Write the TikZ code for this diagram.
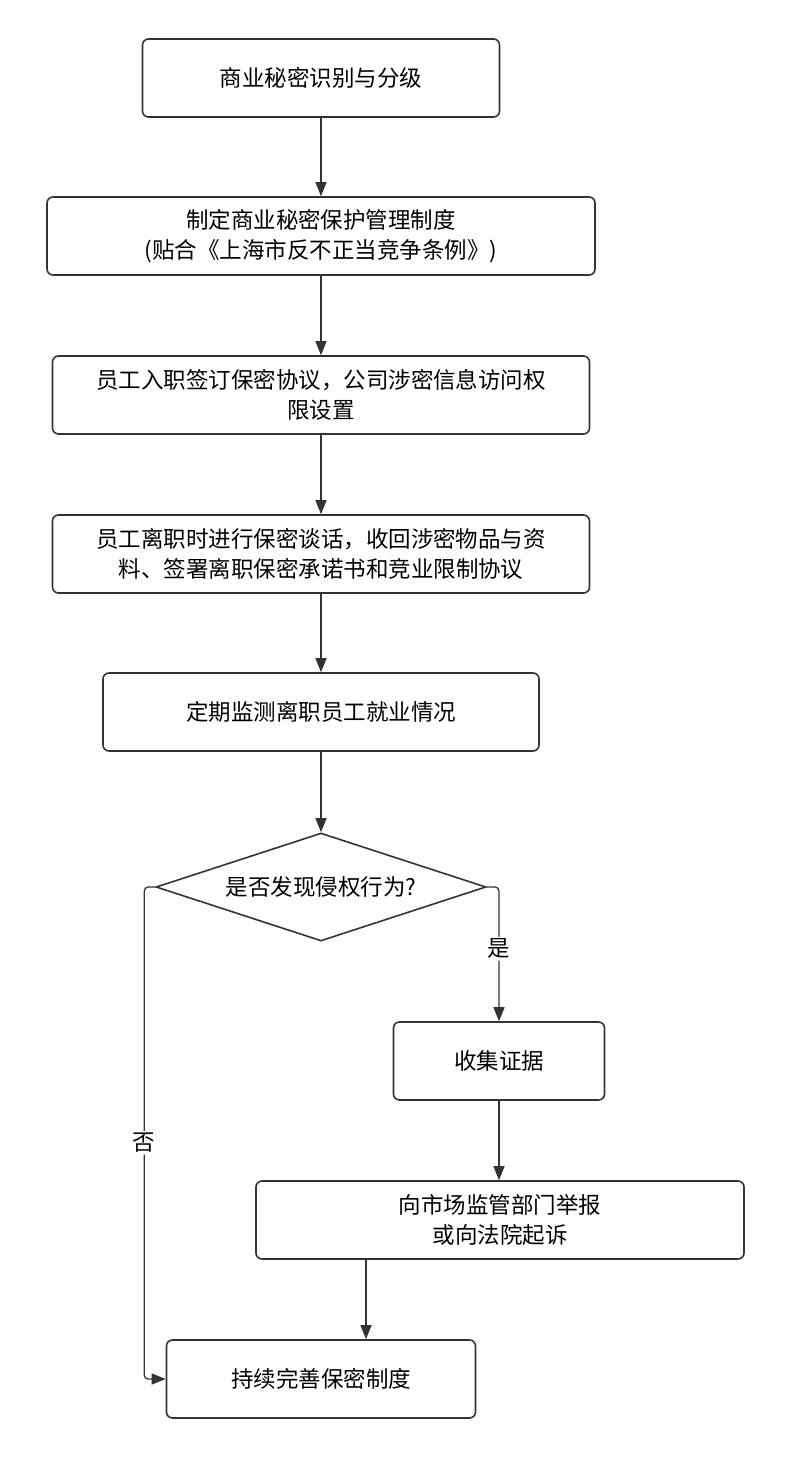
\documentclass[tikz,border=0pt]{standalone}
\usepackage{fontspec}
\setmainfont{Noto Sans CJK SC}
\usetikzlibrary{shapes.geometric, arrows.meta}
\definecolor{linegray}{HTML}{333333}
\tikzstyle{process} = [rectangle, rounded corners=6pt, minimum height=78pt, text centered, draw=linegray, line width=1.6pt, font=\fontsize{22.5}{30}\selectfont]
\tikzstyle{decision} = [diamond, aspect=3.05, minimum width=330pt, minimum height=108pt, inner sep=0pt, text centered, draw=linegray, line width=1.6pt, font=\fontsize{22.5}{30}\selectfont]
\tikzstyle{arrow} = [line width=1.3pt, draw=linegray, -{Stealth[length=14pt, width=11pt, inset=0pt]}]
\tikzstyle{lbl} = [fill=white, font=\fontsize{22.5}{30}\selectfont, inner sep=2pt]
\begin{document}
\begin{tikzpicture}[x=1pt, y=1pt, node distance=158pt, align=center]
    \useasboundingbox (0,0) rectangle (791,-1457);
    \node (identify) [process, minimum width=357pt] at (321,-78) {商业秘密识别与分级};
    \node (policy) [process, minimum width=548pt, below of=identify] {制定商业秘密保护管理制度\\(贴合《上海市反不正当竞争条例》)};
    \node (onboard) [process, minimum width=537pt, below of=policy, yshift=-1pt] {员工入职签订保密协议，公司涉密信息访问权\\限设置};
    \node (offboard) [process, minimum width=537pt, below of=onboard, yshift=-1pt] {员工离职时进行保密谈话，收回涉密物品与资\\料、签署离职保密承诺书和竞业限制协议};
    \node (monitor) [process, minimum width=436pt, below of=offboard] {定期监测离职员工就业情况};
    \node (check) [decision] at (321,-887) {是否发现侵权行为?};
    \node (evidence) [process, minimum width=211pt] at (499,-1061) {收集证据};
    \node (report) [process, minimum width=488pt, below of=evidence, xshift=1pt, yshift=-1pt] {向市场监管部门举报\\或向法院起诉};
    \node (improve) [process, minimum width=309pt] at (321,-1379) {持续完善保密制度};

    \draw [arrow] (identify) -- (policy);
    \draw [arrow] (policy) -- (onboard);
    \draw [arrow] (onboard) -- (offboard);
    \draw [arrow] (offboard) -- (monitor);
    \draw [arrow] (monitor) -- (check);
    \draw [arrow, rounded corners=4pt] (check.east) -| node[lbl, pos=0.73] {是} (evidence.north);
    \draw [arrow] (evidence) -- (evidence |- report.north);
    \draw [arrow] ([xshift=-134pt]report.south) -- ([xshift=-134pt]report.south |- improve.north);
    \draw [arrow, rounded corners=4pt] (check.west) -- ++(-11,0) |- node[lbl, pos=0.26] {否} (improve.west);
  \end{tikzpicture}
\end{document}
